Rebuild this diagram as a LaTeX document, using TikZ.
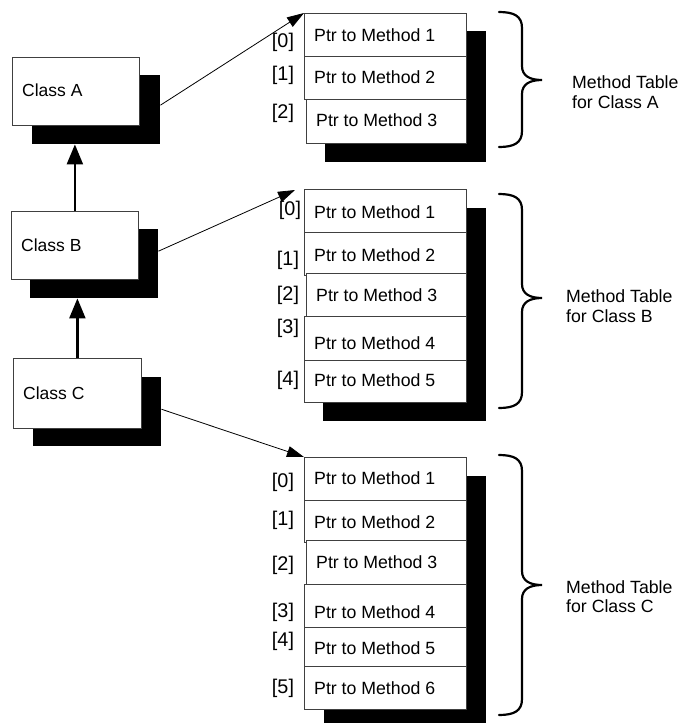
\documentclass[tikz,border=0pt]{standalone}
\usepackage{fontspec}
\setmainfont{Liberation Sans}
\usetikzlibrary{arrows.meta}

% curly brace: top y, tip y, bottom y (x fixed)
\newcommand{\tablebrace}[3]{%
  \draw[bracepath] (499,#1) .. controls (514,#1) and (522,{#1+4}) .. (522,{#1+16})
    -- (522,{#2-14}) .. controls (522,{#2-4}) and (530,#2) .. (542,#2)
    .. controls (530,#2) and (522,{#2+4}) .. (522,{#2+14})
    -- (522,{#3-16}) .. controls (522,{#3-4}) and (514,#3) .. (499,#3);}

\begin{document}
\begin{tikzpicture}[x=1pt,y=-1pt,
  shadowbox/.style={fill=black,draw=none,inner sep=0pt,anchor=north west},
  classbox/.style={draw=black!75,fill=white,line width=0.8pt,inner sep=0pt,anchor=north west},
  classtext/.style={anchor=west,inner sep=0pt,font=\fontsize{17.5}{20}\selectfont},
  rowbox/.style={draw=black!75,fill=white,line width=0.8pt,inner sep=0pt,anchor=north west,minimum width=162pt},
  ptrtext/.style={anchor=west,inner sep=0pt,font=\fontsize{17.7}{20}\selectfont},
  idx/.style={inner sep=0pt,font=\fontsize{19.8}{22}\selectfont},
  tabletitle/.style={anchor=base west,inner sep=0pt,font=\fontsize{17.7}{20}\selectfont},
  ptrarrow/.style={-{Triangle[length=17pt,width=11pt]},line width=0.8pt},
  inherit/.style={-{Triangle[length=20pt,width=16pt]},line width=2.2pt},
  bracepath/.style={line width=2.2pt,line cap=round}]
\useasboundingbox (0,0) rectangle (684,724);

% ---------- classes ----------
\node[shadowbox,minimum width=128pt,minimum height=69pt] (As) at (32,75) {};
\node[classbox,minimum width=127pt,minimum height=68pt] (A) at (12,57) {};
\node[classtext] (At) at (22,90) {Class A};

\node[shadowbox,minimum width=128pt,minimum height=69pt] (Bs) at (30,229) {};
\node[classbox,minimum width=127pt,minimum height=68pt] (B) at (11,211) {};
\node[classtext] (Bt) at (21,245) {Class B};

\node[shadowbox,minimum width=128pt,minimum height=69pt] (Cs) at (33,377) {};
\node[classbox,minimum width=128pt,minimum height=70pt] (C) at (13,358) {};
\node[classtext] (Ct) at (23,393) {Class C};

% ---------- method table A ----------
\node[shadowbox,minimum width=161pt,minimum height=131pt] (tas) at (325,31) {};
\node[rowbox,minimum height=43pt] (a0) at (304,13) {};
\node[rowbox,minimum height=43pt] (a1) at (304,56) {};
\node[rowbox,minimum height=44pt,minimum width=160pt] (a2) at (306,99) {};
\node[ptrtext] (pa0) at (314,35) {Ptr to Method 1};
\node[ptrtext] (pa1) at (314,77) {Ptr to Method 2};
\node[ptrtext] (pa2) at (316,120) {Ptr to Method 3};
\node[idx] (ia0) at (283,42) {[0]};
\node[idx] (ia1) at (283,75) {[1]};
\node[idx] (ia2) at (283,113) {[2]};

% ---------- method table B ----------
\node[shadowbox,minimum width=163pt,minimum height=213pt] (tbs) at (323,208) {};
\node[rowbox,minimum height=43pt] (b0) at (304,189) {};
\node[rowbox,minimum height=43pt] (b1) at (304,232) {};
\node[rowbox,minimum height=43pt,minimum width=160pt] (b2) at (306,273) {};
\node[rowbox,minimum height=44pt] (b3) at (304,316) {};
\node[rowbox,minimum height=42pt] (b4) at (304,360) {};
\node[ptrtext] (pb0) at (314,212) {Ptr to Method 1};
\node[ptrtext] (pb1) at (314,255) {Ptr to Method 2};
\node[ptrtext] (pb2) at (316,295) {Ptr to Method 3};
\node[ptrtext] (pb3) at (314,343) {Ptr to Method 4};
\node[ptrtext] (pb4) at (314,380) {Ptr to Method 5};
\node[idx] (ib0) at (290,210) {[0]};
\node[idx] (ib1) at (288,260) {[1]};
\node[idx] (ib2) at (288,295) {[2]};
\node[idx] (ib3) at (288,328) {[3]};
\node[idx] (ib4) at (288,380) {[4]};

% ---------- method table C ----------
\node[shadowbox,minimum width=162pt,minimum height=247pt] (tcs) at (324,476) {};
\node[rowbox,minimum height=43pt] (c0) at (304,457) {};
\node[rowbox,minimum height=42pt] (c1) at (304,500) {};
\node[rowbox,minimum height=44pt,minimum width=160pt] (c2) at (306,540) {};
\node[rowbox,minimum height=43pt] (c3) at (304,584) {};
\node[rowbox,minimum height=39pt] (c4) at (304,627) {};
\node[rowbox,minimum height=43pt] (c5) at (304,666) {};
\node[ptrtext] (pc0) at (314,478) {Ptr to Method 1};
\node[ptrtext] (pc1) at (314,522) {Ptr to Method 2};
\node[ptrtext] (pc2) at (316,562) {Ptr to Method 3};
\node[ptrtext] (pc3) at (314,612) {Ptr to Method 4};
\node[ptrtext] (pc4) at (314,648) {Ptr to Method 5};
\node[ptrtext] (pc5) at (314,688) {Ptr to Method 6};
\node[idx] (ic0) at (283,482) {[0]};
\node[idx] (ic1) at (283,520) {[1]};
\node[idx] (ic2) at (283,565) {[2]};
\node[idx] (ic3) at (283,612) {[3]};
\node[idx] (ic4) at (283,641) {[4]};
\node[idx] (ic5) at (283,688) {[5]};

% ---------- braces and table titles ----------
\tablebrace{12}{80}{147}
\tablebrace{194}{298}{408}
\tablebrace{455}{585}{715}
\node[tabletitle] (ta1) at (572,88) {Method Table};
\node[tabletitle] (ta2) at (572,108) {for Class A};
\node[tabletitle] (tb1) at (566,302) {Method Table};
\node[tabletitle] (tb2) at (566,322) {for Class B};
\node[tabletitle] (tc1) at (566,593) {Method Table};
\node[tabletitle] (tc2) at (566,612) {for Class C};

% ---------- connectors ----------
\draw[inherit] (B.north) -- (B.north |- As.south);
\draw[inherit] (C.north) -- (C.north |- Bs.south);
\draw[ptrarrow] ([yshift=4.5pt]As.east) -- (a0.north west);
\draw[ptrarrow] ([yshift=12.5pt]Bs.east) -- ([xshift=-9pt,yshift=-1pt]b0.north west);
\draw[ptrarrow] ([yshift=2.5pt]Cs.east) -- (c0.north west);
\end{tikzpicture}
\end{document}
